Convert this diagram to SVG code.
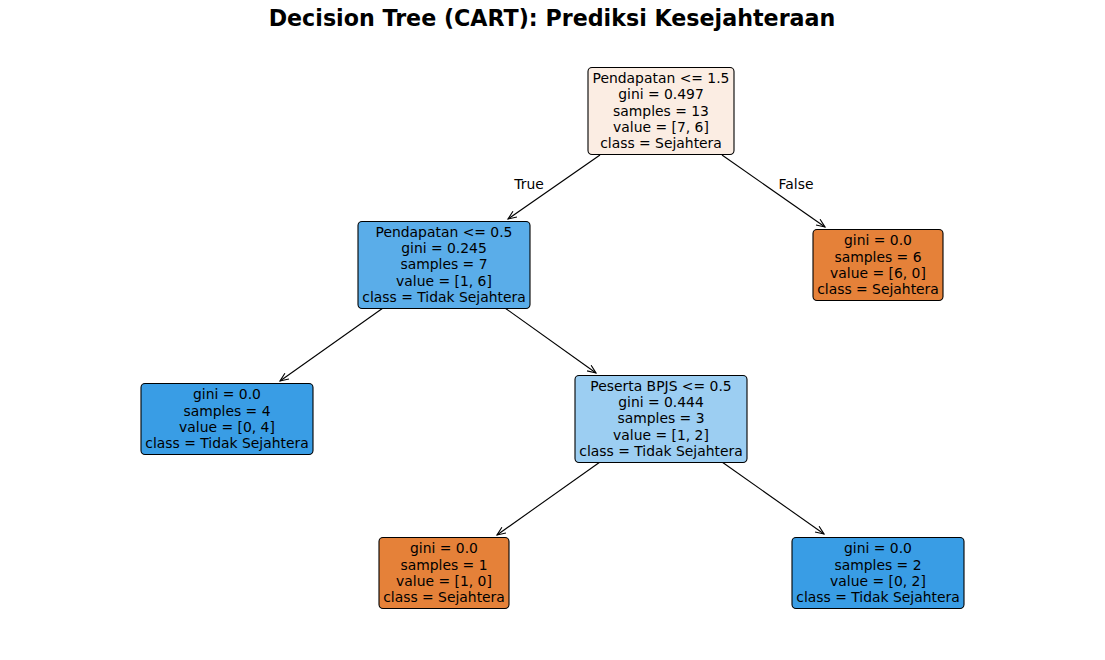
<svg xmlns="http://www.w3.org/2000/svg" width="1105" height="660" viewBox="0 0 1105 660">
<style>
text{font-family:"DejaVu Sans",Verdana,sans-serif;fill:#000}
.t{font-size:13.9px;text-anchor:middle}
.title{font-size:22.2px;font-weight:bold;text-anchor:middle}
.box{stroke:#000;stroke-width:1.1;rx:4;ry:4}
.edge{stroke:#000;stroke-width:1.1;fill:none;marker-end:url(#ah)}
.o{fill:#e58139}.b{fill:#399de5}
</style>
<defs>
<marker id="ah" markerUnits="userSpaceOnUse" markerWidth="12" markerHeight="12" refX="9" refY="4" orient="auto">
<path d="M0.5,0.5 L9,4 L0.5,7.5" fill="none" stroke="#000" stroke-width="1.1"/>
</marker>
</defs>
<rect width="1105" height="660" fill="#fff"/>
<text class="title" x="552" y="26">Decision Tree (CART): Prediksi Kesejahteraan</text>
<g id="connectors">
<line class="edge" x1="600" y1="155" x2="508" y2="219"/>
<line class="edge" x1="722" y1="155" x2="825" y2="227"/>
<line class="edge" x1="383" y1="308" x2="280" y2="381"/>
<line class="edge" x1="505" y1="308" x2="596" y2="373"/>
<line class="edge" x1="600" y1="462" x2="497" y2="535"/>
<line class="edge" x1="722" y1="462" x2="824" y2="534"/>
<text class="t" x="529" y="189">True</text>
<text class="t" x="796" y="189">False</text>
</g>
<g id="node0">
<rect class="box" x="588" y="67.5" width="146" height="87" fill="#fbede3"/>
<text class="t" x="661" y="83">Pendapatan &lt;= 1.5</text>
<text class="t" x="661" y="99.3">gini = 0.497</text>
<text class="t" x="661" y="115.5">samples = 13</text>
<text class="t" x="661" y="131.8">value = [7, 6]</text>
<text class="t" x="661" y="148">class = Sejahtera</text>
</g>
<g id="node1">
<rect class="box" x="358" y="221.5" width="172" height="87" fill="#5aade9"/>
<text class="t" x="444" y="236.7">Pendapatan &lt;= 0.5</text>
<text class="t" x="444" y="253">gini = 0.245</text>
<text class="t" x="444" y="269.3">samples = 7</text>
<text class="t" x="444" y="285.7">value = [1, 6]</text>
<text class="t" x="444" y="302">class = Tidak Sejahtera</text>
</g>
<g id="node2">
<rect class="box b" x="141" y="383.5" width="172" height="71"/>
<text class="t" x="227" y="399.3">gini = 0.0</text>
<text class="t" x="227" y="415.7">samples = 4</text>
<text class="t" x="227" y="432">value = [0, 4]</text>
<text class="t" x="227" y="448.3">class = Tidak Sejahtera</text>
</g>
<g id="node3">
<rect class="box" x="575" y="375.5" width="172" height="87" fill="#9ccef2"/>
<text class="t" x="661" y="391">Peserta BPJS &lt;= 0.5</text>
<text class="t" x="661" y="407.3">gini = 0.444</text>
<text class="t" x="661" y="423.3">samples = 3</text>
<text class="t" x="661" y="439.7">value = [1, 2]</text>
<text class="t" x="661" y="456">class = Tidak Sejahtera</text>
</g>
<g id="node4">
<rect class="box o" x="379" y="537.5" width="130" height="71"/>
<text class="t" x="444" y="553.3">gini = 0.0</text>
<text class="t" x="444" y="569.7">samples = 1</text>
<text class="t" x="444" y="586">value = [1, 0]</text>
<text class="t" x="444" y="602">class = Sejahtera</text>
</g>
<g id="node5">
<rect class="box b" x="792" y="537.5" width="172" height="71"/>
<text class="t" x="878" y="553.3">gini = 0.0</text>
<text class="t" x="878" y="569.7">samples = 2</text>
<text class="t" x="878" y="586">value = [0, 2]</text>
<text class="t" x="878" y="602">class = Tidak Sejahtera</text>
</g>
<g id="node6">
<rect class="box o" x="813" y="229.5" width="130" height="71"/>
<text class="t" x="878" y="245.3">gini = 0.0</text>
<text class="t" x="878" y="261.7">samples = 6</text>
<text class="t" x="878" y="278">value = [6, 0]</text>
<text class="t" x="878" y="294">class = Sejahtera</text>
</g>
</svg>
